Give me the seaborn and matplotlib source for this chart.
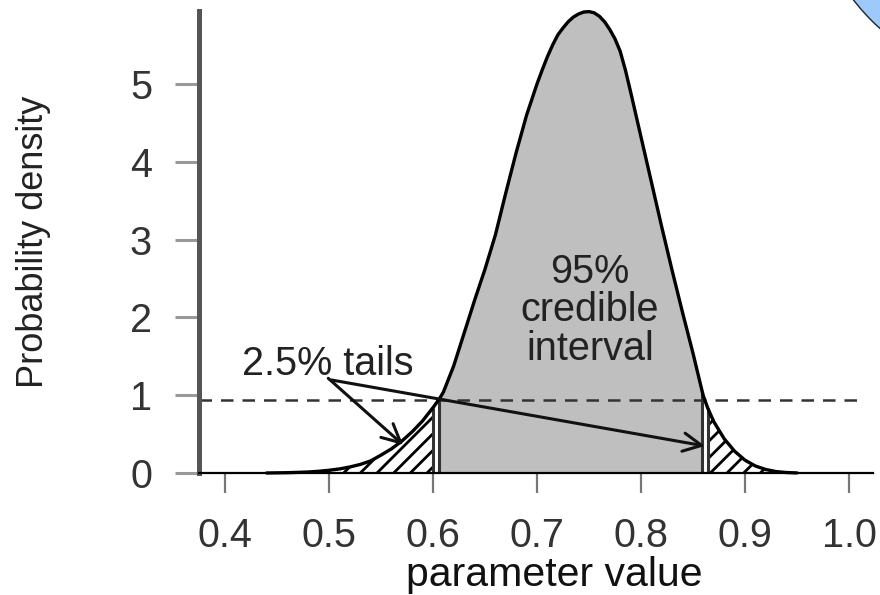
import numpy as np
import pandas as pd
import matplotlib
matplotlib.use("Agg")
import matplotlib.pyplot as plt
from matplotlib.patches import Circle
import seaborn as sns

# ---- data ----
param_x = [0.44, 0.45, 0.46, 0.47, 0.48, 0.49, 0.50, 0.51, 0.52, 0.53, 0.54,
           0.55, 0.56, 0.57, 0.58, 0.59, 0.60, 0.606, 0.61, 0.62, 0.63, 0.64,
           0.65, 0.66, 0.67, 0.68, 0.69, 0.70, 0.705, 0.71, 0.715, 0.72,
           0.725, 0.73, 0.735, 0.74, 0.745, 0.75, 0.755, 0.76, 0.765, 0.77,
           0.775, 0.78, 0.785, 0.79, 0.80, 0.81, 0.82, 0.83, 0.84, 0.85,
           0.859, 0.86, 0.864, 0.87, 0.88, 0.89, 0.90, 0.91, 0.92, 0.93,
           0.94, 0.95]
density = [0.000, 0.002, 0.004, 0.008, 0.013, 0.022, 0.035, 0.052, 0.077, 0.11,
           0.155, 0.23, 0.31, 0.41, 0.53, 0.67, 0.84, 0.95, 1.04, 1.38, 1.80,
           2.22, 2.62, 3.06, 3.60, 4.12, 4.60, 5.00, 5.18, 5.35, 5.50, 5.63,
           5.72, 5.80, 5.86, 5.90, 5.925, 5.93, 5.915, 5.87, 5.80, 5.70,
           5.58, 5.42, 5.18, 4.90, 4.32, 3.74, 3.16, 2.60, 2.06, 1.54,
           1.04, 0.99, 0.84, 0.66, 0.44, 0.28, 0.165, 0.09, 0.045, 0.018,
           0.006, 0.001]

lower_tail_end = 0.600      # 2.5% quantile (hatched tail edge)
ci_low = 0.606              # credible interval start (grey)
ci_high = 0.859             # credible interval end (grey)
upper_tail_start = 0.864    # 97.5% quantile (hatched tail edge)
density_threshold = 0.94    # dashed reference level

x_ticks = [0.4, 0.5, 0.6, 0.7, 0.8, 0.9, 1.0]
x_tick_labels = ["0.4", "0.5", "0.6", "0.7", "0.8", "0.9", "1.0"]
y_ticks = [0, 1, 2, 3, 4, 5]
y_tick_labels = ["0", "1", "2", "3", "4", "5"]

tails_label = "2.5% tails"
tails_label_pos = (0.499, 1.26)
ci_label = "95%\ncredible\ninterval"
ci_label_pos = (0.751, 2.09)
arrow_starts = [(0.4993, 1.217), (0.5026, 1.195)]
arrow_tips = [(0.5714, 0.36), (0.8615, 0.347)]

x_label = "parameter value"
y_label = "Probability density"

df = pd.DataFrame({"x": param_x, "density": density})

# ---- styling ----
sns.set_style("ticks")
plt.rcParams["font.family"] = ["Liberation Sans", "DejaVu Sans"]
plt.rcParams["hatch.linewidth"] = 2.0

fig = plt.figure(figsize=(8.8, 5.95), dpi=100)
ax = fig.add_axes([199 / 880, (595 - 473) / 595, 674 / 880, 462 / 595])

xs = np.array(param_x)
ys = np.array(density)

# grey credible interval
m_ci = (xs >= ci_low) & (xs <= ci_high)
ax.fill_between(xs[m_ci], 0, ys[m_ci], color="#bfbfbf", linewidth=0, zorder=1)

# hatched tails
m_lo = xs <= lower_tail_end
m_hi = xs >= upper_tail_start
for m in (m_lo, m_hi):
    ax.fill_between(xs[m], 0, ys[m], facecolor="white", edgecolor="black",
                    hatch="//", linewidth=0, zorder=1.5)

# vertical boundary lines
bounds = [lower_tail_end, ci_low, ci_high, upper_tail_start]
bound_heights = [ys[np.argmin(np.abs(xs - b))] for b in bounds]
ax.vlines(bounds, 0, bound_heights, colors="#333333", linewidth=2.2, zorder=2)

# density curve
sns.lineplot(data=df, x="x", y="density", ax=ax, color="black",
             linewidth=2.4, zorder=3, clip_on=False)

# dashed line
ax.hlines(density_threshold, 0.375, 1.013, colors="#333333", linewidth=1.8,
          linestyles=(0, (5.0, 3.6)), zorder=2.5)

# arrows and labels
for s, t in zip(arrow_starts, arrow_tips):
    ax.annotate("", xy=t, xytext=s,
                arrowprops=dict(arrowstyle="->,head_length=0.6,head_width=0.3",
                                lw=2.2, color="#111111", shrinkA=0, shrinkB=0,
                                mutation_scale=22), zorder=4)

ax.text(tails_label_pos[0], tails_label_pos[1], tails_label, fontsize=28.5,
        color="#222222", ha="center", va="baseline", zorder=5)
ax.text(ci_label_pos[0], ci_label_pos[1], ci_label, fontsize=28.5,
        color="#222222", ha="center", va="center", multialignment="center",
        linespacing=1.02, zorder=5)

# axes
ax.set_xlim(0.375, 1.0231)
ax.set_ylim(0, 5.938)
ax.set_xticks(x_ticks)
ax.set_xticklabels(x_tick_labels)
ax.set_yticks(y_ticks)
ax.set_yticklabels(y_tick_labels)

for side in ("top", "right"):
    ax.spines[side].set_visible(False)
ax.spines["left"].set_color("#555555")
ax.spines["left"].set_linewidth(3.6)
ax.spines["bottom"].set_color("black")
ax.spines["bottom"].set_linewidth(1.6)

ax.tick_params(axis="x", length=14.4, width=1.6, color="#777777", pad=17,
               labelsize=28.5, labelcolor="#333333")
ax.tick_params(axis="y", length=17.3, width=2.2, color="#999999", pad=16.5,
               labelsize=28.5, labelcolor="#333333")

ax.set_xlabel(x_label, fontsize=29.5, color="#111111")
ax.xaxis.set_label_coords(0.527, -0.18)
ax.set_ylabel(y_label, fontsize=26, color="#222222", va="center")
ax.yaxis.set_label_coords(-0.245, 0.5)

# blue circle decoration (top-right corner)
fig.add_artist(Circle((10.2, 7.23), 2.1, transform=fig.dpi_scale_trans,
                      facecolor="#9dc9fb", edgecolor="#222222", linewidth=1.0,
                      clip_on=False))

fig.savefig("out.png", dpi=100)
